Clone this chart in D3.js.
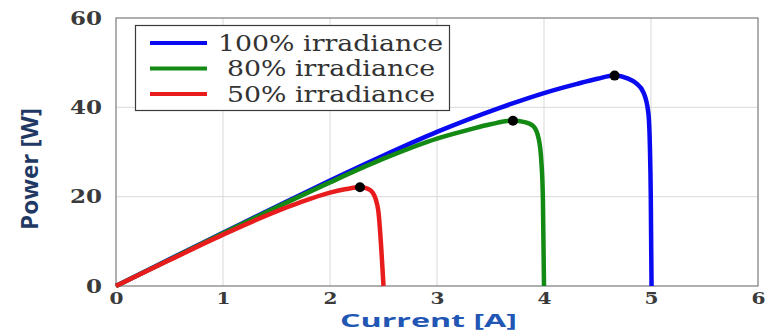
<!DOCTYPE html>
<html>
<head>
<meta charset="utf-8">
<script src="https://cdn.jsdelivr.net/npm/d3@7"></script>
<style>
  html, body { margin: 0; padding: 0; background: #fff; }
  svg { display: block; }
  .serif { font-family: "DejaVu Serif", "Liberation Serif", "Noto Serif", "Times New Roman", Times, serif; }
  .sans { font-family: "Open Sans", "Liberation Sans", Arial, sans-serif; }
</style>
</head>
<body>
<svg id="chart" width="766" height="333"></svg>
<script>
// ---- Data ----
const seriesNames = ["100% irradiance", "80% irradiance", "50% irradiance"];
const current100 = [0, 0.5, 1, 1.5, 2, 2.5, 3, 3.6, 4, 4.3, 4.5, 4.66, 4.78, 4.86, 4.93, 4.975, 4.99, 4.998, 5.005];
const power100   = [0, 6.0, 11.9, 17.8, 23.6, 29.2, 34.5, 40.0, 43.2, 45.2, 46.4, 47.1, 46.5, 45.4, 43.3, 38.8, 31.0, 20.0, 0];
const current80  = [0, 0.5, 1, 1.5, 2, 2.5, 3, 3.3, 3.5, 3.71, 3.82, 3.9, 3.95, 3.975, 3.99, 4.0];
const power80    = [0, 5.9, 11.8, 17.6, 23.2, 28.5, 33.0, 35.0, 36.2, 37.0, 36.7, 35.8, 33.0, 28.0, 19.3, 0];
const current50  = [0, 0.5, 1, 1.5, 1.72, 2, 2.15, 2.28, 2.35, 2.4, 2.45, 2.48, 2.5];
const power50    = [0, 5.8, 11.5, 16.7, 18.7, 20.9, 21.7, 22.1, 21.8, 20.9, 17.1, 8.1, 0];
const mppCurrent = [4.66, 3.71, 2.28];
const mppPower   = [47.1, 37.0, 22.1];
const xTicks = [0, 1, 2, 3, 4, 5, 6];
const yTicks = [0, 20, 40, 60];
const xLabel = "Current [A]";
const yLabel = "Power [W]";

const colors = ["#0a0af0", "#138a13", "#e81c1c"];
const series = [
  {name: seriesNames[0], I: current100, P: power100, color: colors[0]},
  {name: seriesNames[1], I: current80,  P: power80,  color: colors[1]},
  {name: seriesNames[2], I: current50,  P: power50,  color: colors[2]}
];

const svg = d3.select("#chart");
const mLeft = 116, mRight = 758, mTop = 18, mBottom = 286;
const x = d3.scaleLinear().domain([0, 6]).range([mLeft, mRight]);
const y = d3.scaleLinear().domain([0, 60]).range([mBottom, mTop]);

// grid
const grid = svg.append("g");
grid.selectAll("line.vx").data(xTicks.slice(1, -1)).join("line")
  .attr("x1", d => x(d)).attr("x2", d => x(d))
  .attr("y1", mTop).attr("y2", mBottom)
  .attr("stroke", "#d9d9d9").attr("stroke-width", 1);
grid.selectAll("line.hy").data(yTicks.slice(1, -1)).join("line")
  .attr("x1", mLeft).attr("x2", mRight)
  .attr("y1", d => y(d)).attr("y2", d => y(d))
  .attr("stroke", "#d9d9d9").attr("stroke-width", 1);

// frame
svg.append("rect").attr("x", mLeft).attr("y", mTop)
  .attr("width", mRight - mLeft).attr("height", mBottom - mTop)
  .attr("fill", "none").attr("stroke", "#7a7a7a").attr("stroke-width", 1.2);

// axes (labels only)
const xAxis = svg.append("g").attr("transform", `translate(0,${mBottom})`)
  .call(d3.axisBottom(x).tickValues(xTicks).tickSize(0).tickPadding(0).tickFormat(d3.format("d")));
xAxis.select(".domain").remove();
xAxis.attr("font-family", null).attr("font-size", null);
xAxis.selectAll("text")
  .attr("class", "serif")
  .attr("y", 18).attr("dy", null)
  .style("font-size", "17px").style("font-weight", "bold").attr("fill", "#3a3a3a")
  .attr("textLength", d => String(d).length * 14)
  .attr("lengthAdjust", "spacingAndGlyphs");

const yAxis = svg.append("g").attr("transform", `translate(${mLeft},0)`)
  .call(d3.axisLeft(y).tickValues(yTicks).tickSize(0).tickPadding(0).tickFormat(d3.format("d")));
yAxis.select(".domain").remove();
yAxis.attr("font-family", null).attr("font-size", null);
yAxis.selectAll("text")
  .attr("class", "serif")
  .attr("x", -14).attr("dy", "0.35em")
  .style("font-size", "18px").style("font-weight", "bold").attr("fill", "#3a3a3a")
  .attr("textLength", d => String(d).length * 16)
  .attr("lengthAdjust", "spacingAndGlyphs");

// curves
const line = d3.line().x(d => x(d[0])).y(d => y(d[1])).curve(d3.curveMonotoneX);
series.forEach(s => {
  svg.append("path")
    .datum(s.I.map((v, i) => [v, s.P[i]]))
    .attr("d", line)
    .attr("fill", "none").attr("stroke", s.color)
    .attr("stroke-width", 4.5).attr("stroke-linejoin", "round").attr("stroke-linecap", "butt");
});

// MPP markers
svg.selectAll("circle.mpp").data(mppCurrent).join("circle")
  .attr("cx", (d) => x(d)).attr("cy", (d, i) => y(mppPower[i]))
  .attr("r", 5).attr("fill", "#000");

// legend
const lg = svg.append("g");
lg.append("rect").attr("x", 135.5).attr("y", 25.5).attr("width", 314).attr("height", 85)
  .attr("fill", "#fff").attr("stroke", "#3a3a3a").attr("stroke-width", 1.2);
const rowsY = [43, 68.5, 94];
const textLens = [225, 208, 208];
const textX = [218, 227, 227];
series.forEach((s, i) => {
  lg.append("line").attr("x1", 150).attr("x2", 207)
    .attr("y1", rowsY[i]).attr("y2", rowsY[i])
    .attr("stroke", s.color).attr("stroke-width", 4);
  lg.append("text").attr("class", "serif").attr("x", textX[i]).attr("y", rowsY[i] + 7.5)
    .style("font-size", "22px").attr("fill", "#333")
    .attr("textLength", textLens[i]).attr("lengthAdjust", "spacingAndGlyphs")
    .text(s.name);
});

// axis titles
svg.append("text").attr("class", "sans").attr("x", 428.5).attr("y", 327)
  .attr("text-anchor", "middle")
  .style("font-size", "18px").style("font-weight", "bold").attr("fill", "#2156b5")
  .attr("textLength", 177).attr("lengthAdjust", "spacingAndGlyphs")
  .text(xLabel);

svg.append("text").attr("class", "sans").attr("transform", "translate(38,169) rotate(-90)")
  .attr("text-anchor", "middle")
  .style("font-size", "23px").style("font-weight", "bold").attr("fill", "#1f3864")
  .attr("textLength", 122).attr("lengthAdjust", "spacingAndGlyphs")
  .text(yLabel);
</script>
</body>
</html>
